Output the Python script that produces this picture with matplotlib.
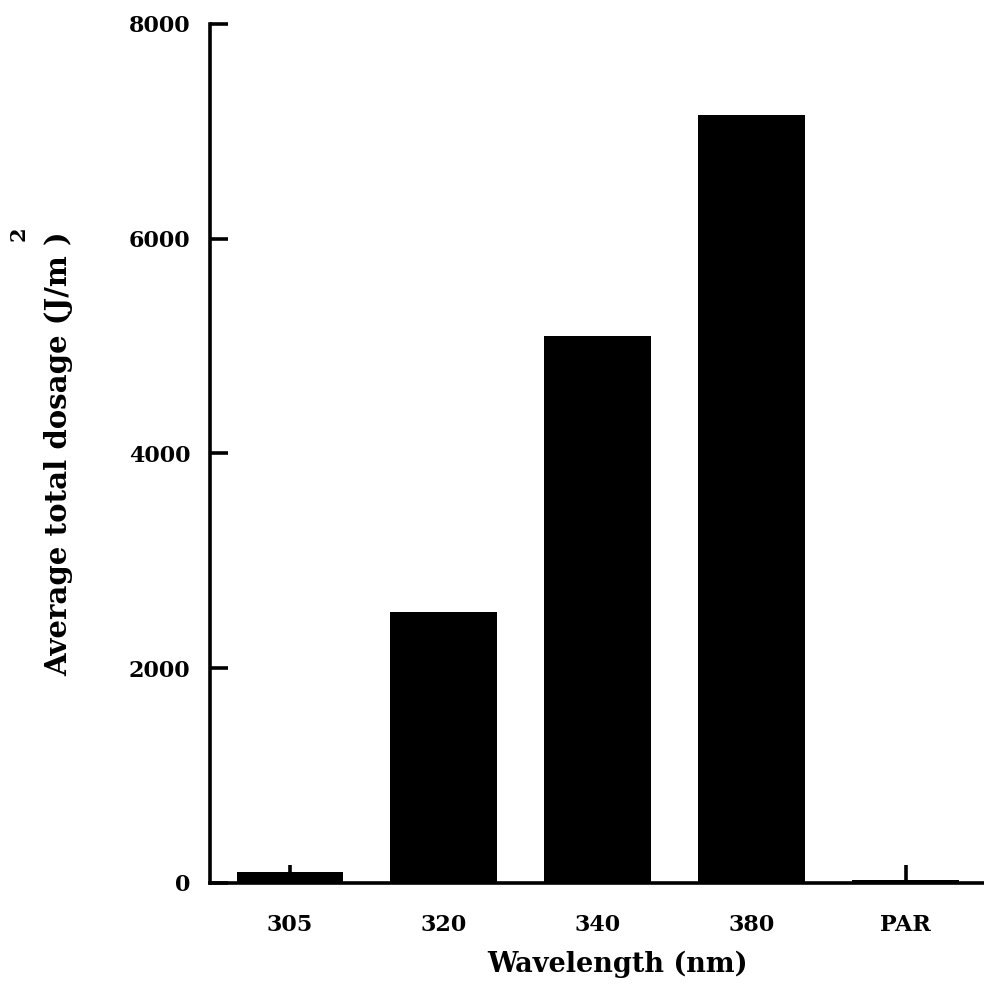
import matplotlib
matplotlib.use('Agg')
import matplotlib.pyplot as plt
import numpy as np

# 数据
categories = ['305', '320', '340', '380', 'PAR']
dosage = [102, 2525, 5095, 7150, 28]
yticks = [0, 2000, 4000, 6000, 8000]

plt.rcParams['font.family'] = ['DejaVu Serif']
plt.rcParams['font.weight'] = 'bold'

fig = plt.figure(figsize=(9.84, 9.96), dpi=100)
ax = fig.add_axes([0.2134, 0.1135, 0.7866, 0.8625])

x = np.arange(len(categories))
ax.bar(x, dosage, width=0.695, color='black', zorder=1)

ax.set_xlim(-0.52, 4.51)
ax.set_ylim(0, 8000)
ax.set_xticks(x)
ax.set_xticklabels(categories)
ax.set_yticks(yticks)
ax.set_yticklabels([str(v) for v in yticks])

for side in ['top', 'right']:
    ax.spines[side].set_visible(False)
for side in ['left', 'bottom']:
    ax.spines[side].set_linewidth(2.6)

ax.tick_params(axis='both', direction='in', length=13, width=2.6,
               labelsize=16, colors='black')
ax.tick_params(axis='y', pad=14)
ax.tick_params(axis='x', pad=22)
for lab in ax.get_xticklabels() + ax.get_yticklabels():
    lab.set_fontweight('bold')

ax.set_xlabel('Wavelength (nm)', fontsize=19.5, fontweight='bold')
ax.xaxis.set_label_coords(0.527, -0.079)
ax.set_ylabel('Average total dosage (J/m )', fontsize=21, fontweight='bold', labelpad=40)
fig.text(0.0193, 0.765, '2', rotation=90, fontsize=15, fontweight='bold',
         ha='center', va='center')

fig.savefig('out.png', dpi=100)
